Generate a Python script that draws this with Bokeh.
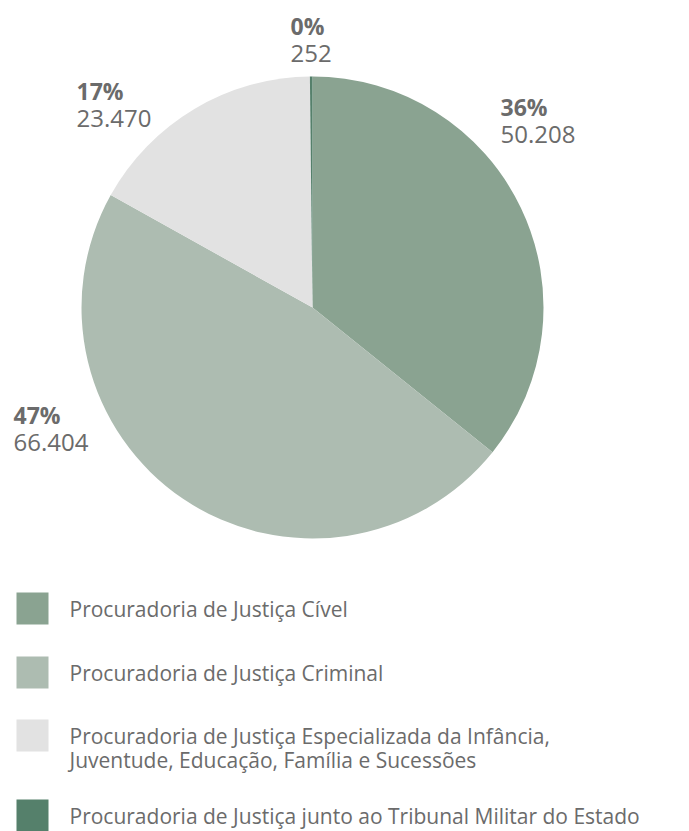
import math
from bokeh.plotting import figure
from bokeh.models import Range1d, ColumnDataSource
from bokeh.core.properties import value
from bokeh.embed import file_html
from bokeh.resources import INLINE

categories = [
    "Procuradoria de Justiça Cível",
    "Procuradoria de Justiça Criminal",
    "Procuradoria de Justiça Especializada da Infância,\nJuventude, Educação, Família e Sucessões",
    "Procuradoria de Justiça junto ao Tribunal Militar do Estado",
]
values = [50208, 66404, 23470, 252]
colors = ["#8aa391", "#adbcb1", "#e2e2e2", "#55806b"]

# layout (pixel positions, y measured from the top)
label_x = [500, 13, 76, 290]
label_y = [106, 414, 90, 25]
legend_y = [608, 672, 735, 815]

W, H = 689, 831
FONT = "Open Sans"
TXT = "#6b6b6b"

def fy(y):
    return H - y

total = sum(values)
cum = 0.0
starts, ends = [], []
for v in values:
    starts.append(math.pi / 2 - 2 * math.pi * cum / total)
    cum += v
    ends.append(math.pi / 2 - 2 * math.pi * cum / total)

pcts = [f"{round(v / total * 100)}%" for v in values]
nums = [f"{v:,}".replace(",", ".") for v in values]

p = figure(width=W, height=H, x_range=Range1d(0, W), y_range=Range1d(0, H),
           output_backend="svg", toolbar_location=None,
           x_axis_location=None, y_axis_location=None, min_border=0)
p.grid.visible = False
p.outline_line_color = None
p.background_fill_color = "white"
p.border_fill_color = "white"

cx, cy, r = 312, 307, 231
src = ColumnDataSource(dict(start=starts, end=ends, color=colors))
p.wedge(x=cx, y=fy(cy), radius=r, start_angle="start", end_angle="end",
        direction="clock", fill_color="color", line_color=None, source=src)

# slice labels
p.text(x=label_x, y=[fy(y) for y in label_y], text=pcts,
       text_font=value(FONT), text_font_style="bold", text_font_size="23px",
       text_color=TXT, text_baseline="middle", text_align="left")
p.text(x=label_x, y=[fy(y + 28) for y in label_y], text=nums,
       text_font=value(FONT), text_font_size="24px",
       text_color=TXT, text_baseline="middle", text_align="left")

# legend
p.rect(x=[32] * 4, y=[fy(y) for y in legend_y], width=32, height=32,
       fill_color=colors, line_color=None)
leg_text_y = []
leg_text = []
for cat, y in zip(categories, legend_y):
    lines = cat.split("\n")
    for i, ln in enumerate(lines):
        leg_text.append(ln)
        leg_text_y.append(fy(y + i * 24))
p.text(x=[69] * len(leg_text), y=leg_text_y, text=leg_text,
       text_font=value(FONT), text_font_size="21px", text_color=TXT,
       text_baseline="middle", text_align="left")

open("out.html", "w").write(file_html(p, INLINE))
